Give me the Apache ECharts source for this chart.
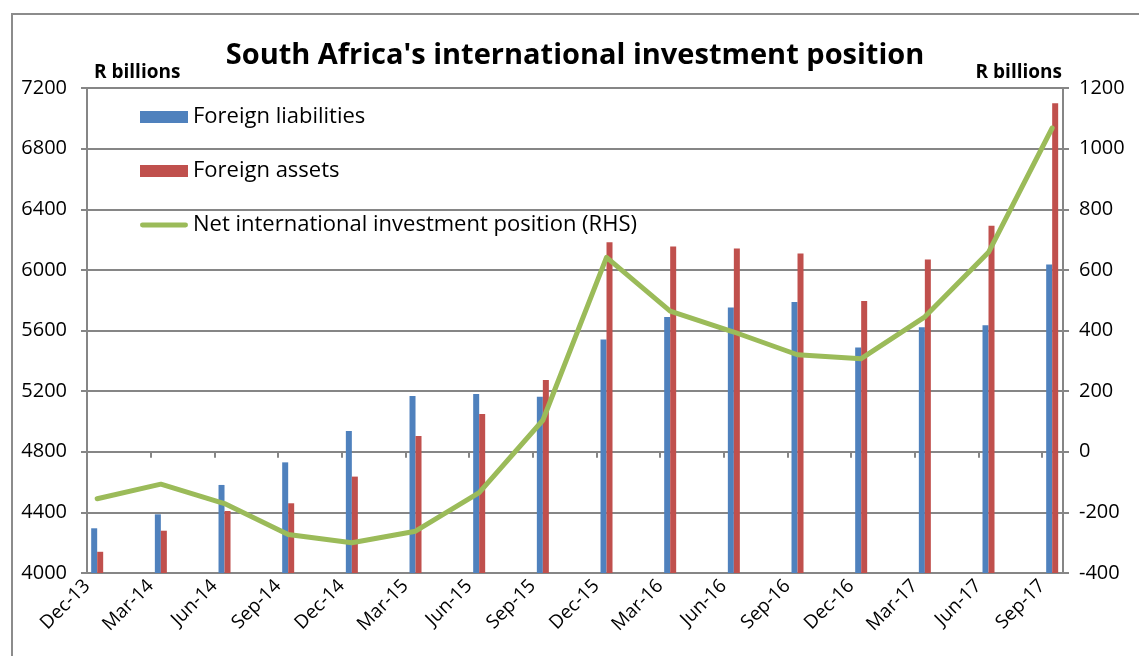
<!DOCTYPE html>
<html>
<head>
<meta charset="utf-8">
<script src="https://cdn.jsdelivr.net/npm/echarts@6/dist/echarts.min.js"></script>
<style>
  html, body { margin: 0; padding: 0; background: #fff; }
  #main { width: 1139px; height: 656px; }
</style>
</head>
<body>
<div id="main"></div>
<script>
// quarter labels on the x axis
var categories = ['Dec-13', 'Mar-14', 'Jun-14', 'Sep-14', 'Dec-14', 'Mar-15', 'Jun-15', 'Sep-15',
  'Dec-15', 'Mar-16', 'Jun-16', 'Sep-16', 'Dec-16', 'Mar-17', 'Jun-17', 'Sep-17'];

// R billions, left axis
var liabilities = [4295, 4387, 4581, 4730, 4937, 5168, 5181, 5163,
  5541, 5689, 5751, 5788, 5488, 5622, 5634, 6035];
var assets = [4140, 4279, 4409, 4460, 4636, 4904, 5049, 5274,
  6183, 6155, 6141, 6108, 5795, 6068, 6291, 7100];

// R billions, right axis
var netPosition = [-155, -107, -171, -273, -300, -262, -135, 104,
  641, 464, 395, 320, 307, 445, 658, 1068];

var leftTicks = { min: 4000, max: 7200, step: 400 };
var rightTicks = { min: -400, max: 1200, step: 200 };

// data points sit a little after each quarter tick (mid-month dates)
var pointShift = 0.16;

function withX(arr) {
  return arr.map(function (v, i) { return [i + pointShift, v]; });
}

var font = '"Open Sans", sans-serif';
var grey = '#868686';

var chart = echarts.init(document.getElementById('main'), null, { renderer: 'canvas' });

var option = {
  backgroundColor: '#ffffff',
  animation: false,
  grid: { left: 87, right: 76, top: 88, bottom: 83 },
  graphic: [
    {
      type: 'rect',
      shape: { x: 12, y: 14, width: 1200, height: 700 },
      style: { fill: 'none', stroke: '#8c8c8c', lineWidth: 2 },
      silent: true
    },
    {
      type: 'text', x: 575, y: 56,
      style: { text: "South Africa's international investment position", font: 'bold 29px ' + font,
        fill: '#000', align: 'center', verticalAlign: 'middle' }
    },
    {
      type: 'text', x: 94, y: 73,
      style: { text: 'R billions', font: 'bold 19px ' + font, fill: '#000', verticalAlign: 'middle' }
    },
    {
      type: 'text', x: 1062, y: 73,
      style: { text: 'R billions', font: 'bold 19px ' + font, fill: '#000', align: 'right', verticalAlign: 'middle' }
    }
  ],
  legend: {
    orient: 'vertical',
    left: 135,
    top: 100,
    itemWidth: 48,
    itemHeight: 12,
    itemGap: 30,
    textStyle: { fontFamily: font, fontSize: 22, color: '#000', lineHeight: 24 },
    data: [
      { name: 'Foreign liabilities', icon: 'rect' },
      { name: 'Foreign assets', icon: 'rect' },
      { name: 'Net international investment position (RHS)',
        icon: 'path://M2,0 L46,0 A2.5,2.5 0 0 1 46,5 L2,5 A2.5,2.5 0 0 1 2,0 Z',
        itemStyle: { color: '#9BBB59' },
        lineStyle: { width: 0 } }
    ]
  },
  xAxis: {
    type: 'value',
    min: 0,
    max: 15.33,
    interval: 1,
    axisLine: { lineStyle: { color: grey, width: 2 } },
    axisTick: { show: true, length: 6, lineStyle: { color: grey, width: 2 } },
    splitLine: { show: false },
    axisLabel: {
      rotate: 45,
      margin: 10,
      fontFamily: font,
      fontSize: 19,
      color: '#000',
      showMaxLabel: false,
      formatter: function (v) {
        return Number.isInteger(v) && categories[v] ? categories[v] : '';
      }
    }
  },
  yAxis: [
    {
      type: 'value',
      min: leftTicks.min,
      max: leftTicks.max,
      interval: leftTicks.step,
      axisLine: { show: true, lineStyle: { color: grey, width: 2 } },
      axisTick: { show: true, length: 6, lineStyle: { color: grey, width: 2 } },
      splitLine: { show: true, lineStyle: { color: grey, width: 2 } },
      axisLabel: { fontFamily: font, fontSize: 20, color: '#000', margin: 20,
        formatter: function (v) { return String(v); } }
    },
    {
      type: 'value',
      min: rightTicks.min,
      max: rightTicks.max,
      interval: rightTicks.step,
      axisLine: { show: true, lineStyle: { color: grey, width: 2 } },
      axisTick: { show: true, length: 6, lineStyle: { color: grey, width: 2 } },
      splitLine: { show: false },
      axisLabel: { fontFamily: font, fontSize: 20, color: '#000', margin: 16,
        formatter: function (v) { return String(v); } }
    }
  ],
  series: [
    {
      name: 'Foreign liabilities',
      type: 'bar',
      yAxisIndex: 0,
      barWidth: 6,
      barGap: '0%',
      itemStyle: { color: '#4F81BD' },
      data: withX(liabilities)
    },
    {
      name: 'Foreign assets',
      type: 'bar',
      yAxisIndex: 0,
      barWidth: 6,
      barGap: '0%',
      itemStyle: { color: '#C0504D' },
      data: withX(assets)
    },
    {
      name: 'Net international investment position (RHS)',
      type: 'line',
      yAxisIndex: 1,
      symbol: 'none',
      showSymbol: false,
      smooth: false,
      lineStyle: { color: '#9BBB59', width: 5, cap: 'round', join: 'round' },
      itemStyle: { color: '#9BBB59' },
      data: withX(netPosition),
      z: 5
    }
  ]
};

chart.setOption(option);
</script>
</body>
</html>
